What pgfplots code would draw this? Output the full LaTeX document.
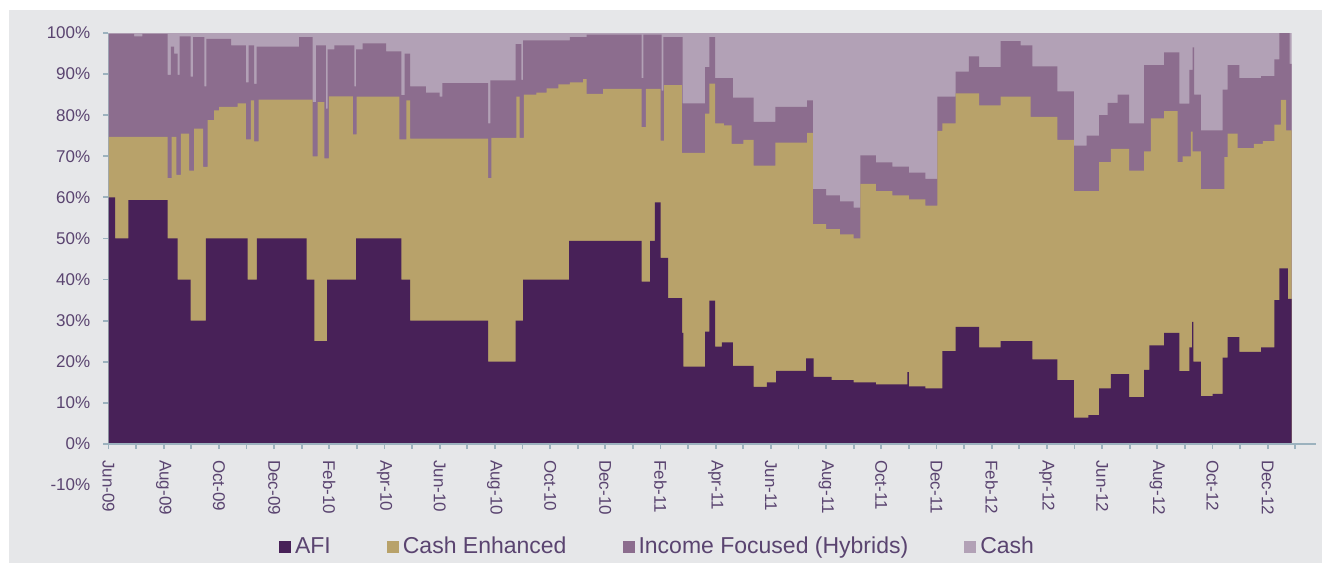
\documentclass[border=0pt]{standalone}
\usepackage{fontspec}
\setmainfont{Liberation Sans}
\usepackage{pgfplots}
\usepackage{pgfplotstable}
\pgfplotsset{compat=1.18}
\definecolor{afi}{HTML}{482158}
\definecolor{cenh}{HTML}{B8A26A}
\definecolor{incf}{HTML}{8C6D8E}
\definecolor{cashc}{HTML}{B2A1B6}
\definecolor{bgc}{HTML}{E6E7E9}
\definecolor{axcol}{HTML}{9CB2BE}
\definecolor{txt}{HTML}{5A4470}

% Cash: top of the stack (100%)
\pgfplotstableread{
m v
0 100
42.87 100
}\cashtab

% Top of Income Focused (AFI + Cash Enhanced + Income Focused)
\pgfplotstableread{
m v
0 99.8
0.93 99.2
1.23 99.8
2.14 89.8
2.26 96.7
2.38 95
2.50 89.8
2.58 99.2
2.98 89.4
3.07 99
3.47 87
3.55 98.6
4.44 97
4.98 88
5.08 97
5.28 87.6
5.37 96.7
6.91 99
7.40 83.2
7.52 97
7.88 81.6
7.94 96
8.18 97
8.91 87
8.97 96
9.21 97.5
10.06 95.5
10.61 84.9
10.73 95
10.93 87
11.5 85.5
12.0 84.5
12.1 87.8
13.75 78
13.84 88.5
14.75 97.3
14.96 88.6
15.02 98.2
16.72 99
17.32 99.6
19.32 89
19.38 99.6
20.04 86
20.10 99
20.80 82.9
21.62 91.7
21.77 99
21.98 89
22.62 84.3
23.37 78.4
24.16 82
25.31 83.6
25.52 62
26.0 60.5
26.5 59
27.0 57.5
27.24 70.2
27.8 68.5
28.4 67.5
29.0 66
29.6 64.5
30.03 84.5
30.69 90.6
31.17 94.3
31.54 91.7
32.32 98
33.05 97
33.47 91.9
34.38 85.8
34.98 72.6
35.44 75
35.89 80
36.2 83
36.56 85
36.98 78
37.52 92.2
38.25 95.3
38.80 82.8
39.16 91
39.28 96.5
39.33 85
39.58 76.3
40.37 86.2
40.55 92.2
40.97 89
41.76 89.5
42.24 93.6
42.42 100
42.79 92.5
42.87 92.5
}\iftab

% Top of Cash Enhanced (AFI + Cash Enhanced)
\pgfplotstableread{
m v
0 74.7
2.14 64.7
2.29 74.7
2.46 65.5
2.62 75.5
2.92 66.5
3.10 76.7
3.43 67.4
3.59 78.8
3.83 81.2
4.01 82
4.68 82.9
4.98 74.1
5.16 83.6
5.28 73.6
5.44 83.8
7.40 70
7.58 83.2
7.82 69.5
7.98 84.6
8.85 75.3
8.99 84.5
10.54 74.1
10.79 83.6
10.93 74.3
13.75 64.7
13.87 74.5
14.78 84.5
14.90 74.5
15.05 85
15.5 85.5
15.87 86.5
16.3 87.5
16.72 88
17.20 88.8
17.32 85.2
17.92 86.4
19.32 77.1
19.47 86.4
20.00 73.8
20.13 87.3
20.77 70.8
21.62 80.4
21.77 87.7
21.98 78
22.3 77.5
22.58 73
23.0 74
23.37 67.7
24.16 73.3
25.31 75.7
25.52 53.5
26.0 52.3
26.5 51
27.0 50
27.24 63.3
27.8 61.5
28.4 60.5
29.0 59.5
29.6 58
30.03 76.2
30.21 78
30.69 85.3
31.54 82.4
32.32 84.5
33.41 79.6
34.38 74
34.98 61.5
35.89 68.6
36.32 71.8
36.98 66.5
37.52 71.2
37.77 79.2
38.25 81
38.74 68.6
38.92 70
39.22 76
39.28 71.2
39.58 62
40.43 69.8
40.55 75.5
40.91 72
41.5 73
41.82 73.7
42.24 77.7
42.48 83.7
42.67 76.3
42.87 76.3
}\cetab

% AFI
\pgfplotstableread{
m v
0 60
0.24 50
0.72 59.3
2.14 50
2.50 40
2.98 30
3.53 50
5.04 40
5.38 50
7.18 40
7.46 25
7.92 40
8.97 50
10.61 40
10.93 30
13.75 20
14.75 30
15.02 40
16.69 49.4
19.32 39.5
19.62 49.4
19.80 58.8
20.00 45.3
20.28 35.5
20.78 27
20.83 18.8
21.62 27.3
21.77 34.9
21.98 23.7
22.22 24.7
22.62 19
23.37 13.9
23.85 15
24.19 17.8
25.28 20.8
25.55 16.3
26.2 15.5
27.0 15
27.8 14.5
28.94 17.5
29.0 14
29.6 13.5
30.21 22.6
30.69 28.5
31.54 23.5
32.32 25
33.47 20.6
34.38 15.5
34.98 6.4
35.5 7
35.89 13.5
36.32 17
36.98 11.4
37.52 18
37.71 24
38.25 27
38.8 17.7
39.16 23.5
39.26 29.7
39.31 20
39.58 11.6
40.0 12.2
40.37 21
40.55 26
40.97 22.4
41.76 23.5
42.24 35
42.42 42.7
42.73 35.3
42.87 35.3
}\afitab

\begin{document}
\begin{tikzpicture}
\useasboundingbox (-54.25pt,-39pt) rectangle (606.75pt,242.5pt);
\fill[white] (-54.25pt,-39pt) rectangle (606.75pt,242.5pt);
\fill[bgc] (-49.75pt,-39pt) rectangle (606.75pt,237.5pt);
\begin{axis}[
  at={(0pt,0pt)}, anchor=south west,
  scale only axis, width=603.75pt, height=226pt,
  xmin=0, xmax=43.75, ymin=-10, ymax=100,
  axis x line=middle, axis y line=left,
  hide obscured x ticks=false,
  x axis line style={-, draw=axcol, line width=0.9pt},
  y axis line style={draw=none},
  axis on top,
  tick align=outside,
  tick style={axcol, line width=0.9pt},
  major tick length=2.6pt,
  minor tick length=2.6pt,
  xtick={0,2,...,42},
  minor xtick={1,3,...,43},
  xticklabels={Jun-09,Aug-09,Oct-09,Dec-09,Feb-10,Apr-10,Jun-10,Aug-10,Oct-10,Dec-10,Feb-11,Apr-11,Jun-11,Aug-11,Oct-11,Dec-11,Feb-12,Apr-12,Jun-12,Aug-12,Oct-12,Dec-12},
  xticklabel style={rotate=-90, anchor=west, font=\fontsize{8.5}{10}\selectfont, text=txt},
  xticklabel shift=2pt,
  ytick={0,10,...,100},
  yticklabel={\pgfmathprintnumber[assume math mode=true]{\tick}\%},
  extra y ticks={-10},
  extra y tick labels={-10\%},
  extra y tick style={tick style={draw=none}},
  yticklabel style={font=\fontsize{8.5}{10}\selectfont, text=txt},
  yticklabel shift=3pt,
  legend style={at={(0.4555,-0.1372)}, anchor=center, draw=none, fill=none,
    legend columns=4, font=\fontsize{11.5}{13}\selectfont, text=txt,
    /tikz/every even column/.append style={column sep=26pt}},
  legend image code/.code={\fill[#1] (-1.5pt,-3pt) rectangle (4.5pt,3pt);},
  reverse legend,
]
\addplot[draw=none, fill=cashc, const plot] table[x=m,y=v] {\cashtab} \closedcycle;
\addlegendentry{Cash}
\addplot[draw=none, fill=incf, const plot] table[x=m,y=v] {\iftab} \closedcycle;
\addlegendentry{Income Focused (Hybrids)}
\addplot[draw=none, fill=cenh, const plot] table[x=m,y=v] {\cetab} \closedcycle;
\addlegendentry{Cash Enhanced}
\addplot[draw=none, fill=afi, const plot] table[x=m,y=v] {\afitab} \closedcycle;
\addlegendentry{AFI}
\draw[axcol, line width=0.9pt] (axis cs:0,0) -- (axis cs:0,100);
\end{axis}
\end{tikzpicture}
\end{document}
